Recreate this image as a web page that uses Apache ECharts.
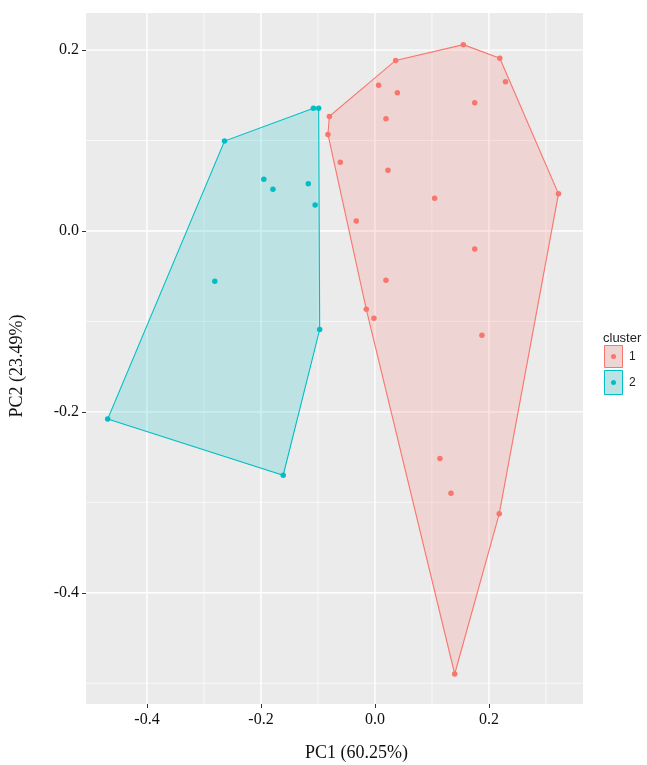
<!DOCTYPE html>
<html>
<head>
<meta charset="utf-8">
<script src="https://cdn.jsdelivr.net/npm/echarts@6/dist/echarts.min.js"></script>
<style>html,body{margin:0;padding:0;background:#fff;}#chart{width:647px;height:765px;}</style>
</head>
<body>
<div id="chart"></div>
<script>
// ---- data ----
const cluster1X = [0.155, 0.219, 0.0363, 0.229, 0.0064, 0.0392, 0.175, -0.080, 0.0193, -0.0825, -0.0608, 0.0228, 0.1047, 0.322, -0.0328, 0.175, 0.0193, -0.0152, -0.0018, 0.1877, 0.114, 0.1334, 0.218, 0.1399];
const cluster1Y = [0.206, 0.191, 0.1886, 0.165, 0.161, 0.1528, 0.1418, 0.1267, 0.1241, 0.1068, 0.0759, 0.067, 0.0361, 0.0412, 0.011, -0.0199, -0.0545, -0.0866, -0.0965, -0.1153, -0.2516, -0.290, -0.3127, -0.4898];
const cluster2X = [-0.264, -0.108, -0.0988, -0.195, -0.179, -0.117, -0.105, -0.281, -0.097, -0.469, -0.161];
const cluster2Y = [0.0994, 0.1356, 0.1356, 0.0571, 0.046, 0.0523, 0.0287, -0.0556, -0.109, -0.208, -0.270];
const xTicks = [-0.4, -0.2, 0.0, 0.2];
const yTicks = [0.2, 0.0, -0.2, -0.4];
const xMinor = [-0.3, -0.1, 0.1, 0.3];
const yMinor = [0.1, -0.1, -0.3, -0.5];
const clusterNames = ['1', '2'];
const xTitle = 'PC1 (60.25%)';
const yTitle = 'PC2 (23.49%)';

// ---- helpers ----
function toPoints(xs, ys) { return xs.map((x, i) => [x, ys[i]]); }
function hull(points) {
  const p = points.slice().sort((a, b) => a[0] - b[0] || a[1] - b[1]);
  const cross = (o, a, b) => (a[0] - o[0]) * (b[1] - o[1]) - (a[1] - o[1]) * (b[0] - o[0]);
  const lower = [];
  for (const q of p) { while (lower.length >= 2 && cross(lower[lower.length - 2], lower[lower.length - 1], q) <= 0) lower.pop(); lower.push(q); }
  const upper = [];
  for (let i = p.length - 1; i >= 0; i--) { const q = p[i]; while (upper.length >= 2 && cross(upper[upper.length - 2], upper[upper.length - 1], q) <= 0) upper.pop(); upper.push(q); }
  upper.pop(); lower.pop();
  return lower.concat(upper);
}
const pts1 = toPoints(cluster1X, cluster1Y);
const pts2 = toPoints(cluster2X, cluster2Y);
const hull1 = hull(pts1);
const hull2 = hull(pts2);

const red = '#F8766D', cyan = '#00BFC4';
const redFill = 'rgba(248,118,109,0.2)', cyanFill = 'rgba(0,191,196,0.2)';
const serif = '"Liberation Serif", "DejaVu Serif", serif';

const chart = echarts.init(document.getElementById('chart'), null, { renderer: 'canvas' });

function hullSeries(h, stroke, fill) {
  return {
    type: 'custom', z: 2, silent: true, clip: true,
    data: [h[0]],
    renderItem: function (params, api) {
      return {
        type: 'polygon',
        shape: { points: h.map(p => api.coord(p)) },
        style: { fill: fill, stroke: stroke, lineWidth: 1.1 }
      };
    }
  };
}

function gridSeries(vals, dir, width) {
  return {
    type: 'custom', z: 1, silent: true,
    data: vals.map(v => [v]),
    renderItem: function (params, api) {
      const cs = params.coordSys;
      const v = api.value(0);
      if (dir === 'x') {
        const x = api.coord([v, 0])[0];
        return { type: 'line', shape: { x1: x, y1: cs.y, x2: x, y2: cs.y + cs.height }, style: { stroke: '#ffffff', lineWidth: width } };
      } else {
        const y = api.coord([0, v])[1];
        return { type: 'line', shape: { x1: cs.x, y1: y, x2: cs.x + cs.width, y2: y }, style: { stroke: '#ffffff', lineWidth: width } };
      }
    }
  };
}

const option = {
  backgroundColor: '#ffffff',
  animation: false,
  grid: { left: 86, right: 64, top: 13, bottom: 61, show: true, backgroundColor: '#EBEBEB', borderWidth: 0 },
  xAxis: {
    type: 'value', min: -0.507, max: 0.365, position: 'bottom',
    axisLine: { show: false, onZero: false },
    splitLine: { show: false },
    axisTick: { show: true, customValues: xTicks, length: 4, lineStyle: { color: '#333333', width: 1 } },
    axisLabel: { customValues: xTicks, margin: 8, color: '#111', fontFamily: serif, fontSize: 16, formatter: v => v.toFixed(1) }
  },
  yAxis: {
    type: 'value', min: -0.523, max: 0.241, position: 'left',
    axisLine: { show: false, onZero: false },
    splitLine: { show: false },
    axisTick: { show: true, customValues: yTicks, length: 4, lineStyle: { color: '#333333', width: 1 } },
    axisLabel: { customValues: yTicks, margin: 7, color: '#111', fontFamily: serif, fontSize: 16, formatter: v => v.toFixed(1) }
  },
  series: [
    gridSeries(xMinor, 'x', 0.7),
    gridSeries(yMinor, 'y', 0.7),
    gridSeries(xTicks, 'x', 1.4),
    gridSeries(yTicks, 'y', 1.4),
    hullSeries(hull1, red, redFill),
    hullSeries(hull2, cyan, cyanFill),
    { name: clusterNames[0], type: 'scatter', z: 3, symbolSize: 5.5, data: pts1, itemStyle: { color: red, opacity: 1 }, silent: true },
    { name: clusterNames[1], type: 'scatter', z: 3, symbolSize: 5.5, data: pts2, itemStyle: { color: cyan, opacity: 1 }, silent: true }
  ],
  graphic: [
    { type: 'text', left: 363 - 58, top: 744, style: { text: xTitle, font: '18px ' + serif, fill: '#111' } },
    { type: 'text', x: 17, y: 366, rotation: Math.PI / 2, style: { text: yTitle, font: '18px ' + serif, fill: '#111', align: 'center', verticalAlign: 'middle' } },
    { type: 'text', x: 603, y: 338, style: { text: 'cluster', font: '13px "Liberation Sans", Arial, sans-serif', fill: '#222', verticalAlign: 'middle' } },
    { type: 'rect', shape: { x: 604.5, y: 345.5, width: 18, height: 22 }, style: { fill: '#EBEBEB', stroke: 'none' } },
    { type: 'rect', shape: { x: 604.5, y: 345.5, width: 18, height: 22 }, style: { fill: redFill, stroke: red, lineWidth: 1 } },
    { type: 'circle', shape: { cx: 613.5, cy: 356.5, r: 2.5 }, style: { fill: red } },
    { type: 'text', x: 629, y: 357, style: { text: clusterNames[0], font: '12px "Liberation Sans", Arial, sans-serif', fill: '#222', verticalAlign: 'middle' } },
    { type: 'rect', shape: { x: 604.5, y: 370.5, width: 18, height: 24 }, style: { fill: '#EBEBEB', stroke: 'none' } },
    { type: 'rect', shape: { x: 604.5, y: 370.5, width: 18, height: 24 }, style: { fill: cyanFill, stroke: cyan, lineWidth: 1 } },
    { type: 'circle', shape: { cx: 613.5, cy: 382.5, r: 2.5 }, style: { fill: cyan } },
    { type: 'text', x: 629, y: 383, style: { text: clusterNames[1], font: '12px "Liberation Sans", Arial, sans-serif', fill: '#222', verticalAlign: 'middle' } }
  ]
};
chart.setOption(option);
</script>
</body>
</html>
